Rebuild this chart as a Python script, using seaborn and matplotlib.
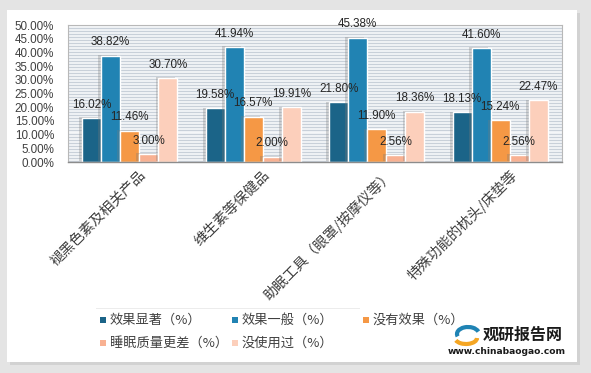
import numpy as np
import pandas as pd
import matplotlib
matplotlib.use('Agg')
import matplotlib.pyplot as plt
import matplotlib.patheffects as pe
from matplotlib.patches import Rectangle, Arc
from matplotlib.ticker import FuncFormatter
import seaborn as sns

# data
categories = ["褪黑色素及相关产品", "维生素等保健品", "助眠工具（眼罩/按摩仪等）", "特殊功能的枕头/床垫等"]
series = ["效果显著（%）", "效果一般（%）", "没有效果（%）", "睡眠质量更差（%）", "没使用过（%）"]
xiaoguo_xianzhu = [16.02, 19.58, 21.80, 18.13]
xiaoguo_yiban = [38.82, 41.94, 45.38, 41.60]
meiyou_xiaoguo = [11.46, 16.57, 11.90, 15.24]
shuimian_gengcha = [3.00, 2.00, 2.56, 2.56]
mei_shiyong = [30.70, 19.91, 18.36, 22.47]
colors = ["#1b6488", "#2183b3", "#f59845", "#f8b192", "#fccfbb"]

values = [xiaoguo_xianzhu, xiaoguo_yiban, meiyou_xiaoguo, shuimian_gengcha, mei_shiyong]
rows = []
for s, vals in zip(series, values):
    for c, v in zip(categories, vals):
        rows.append({"category": c, "series": s, "value": v / 100})
df = pd.DataFrame(rows)

sns.set_theme(style="white")
plt.rcParams['font.family'] = ['Noto Sans CJK SC', 'DejaVu Sans']

W, H = 591, 373
fig = plt.figure(figsize=(W / 100, H / 100), dpi=100)
fig.patch.set_facecolor("#e4e4e4")


def fx(px):
    return px / W


def fy(py):
    return 1 - py / H


# white panel with soft shadow
fig.patches.append(Rectangle((fx(10), fy(365)), fx(570), 352 / H,
                             transform=fig.transFigure, facecolor="#d2d2d2",
                             edgecolor="none", zorder=-2))
fig.patches.append(Rectangle((fx(7), fy(362)), fx(570), 352 / H,
                             transform=fig.transFigure, facecolor="white",
                             edgecolor="none", zorder=-1))

ax = fig.add_axes([fx(68), fy(162), fx(494), 137 / H])
ax.set_facecolor("#f4f6f8")

# striped plot background
for yy in np.arange(0.005, 0.5, 0.011):
    ax.axhline(yy, color="#c8d0d9", lw=0.9, zorder=0)

sns.barplot(data=df, x="category", y="value", hue="series",
            palette=colors, width=0.77, ax=ax, legend=False,
            edgecolor="white", linewidth=1.0, saturation=1, zorder=2)

for bar in ax.patches:
    bar.set_path_effects([pe.SimplePatchShadow(offset=(-2, 0.5),
                                               shadow_rgbFace="#7a7a7a", alpha=0.3),
                          pe.Normal()])

# value labels
for container in ax.containers:
    for bar in container:
        h = bar.get_height()
        ax.annotate(f"{h * 100:.2f}%",
                    (bar.get_x() + bar.get_width() / 2, h),
                    xytext=(0, 9.5), textcoords="offset points",
                    ha="center", va="center", fontsize=8.4,
                    family="Liberation Sans", color="#262626", zorder=5)

ax.set_ylim(0, 0.5)
ax.set_yticks(np.arange(0, 0.51, 0.05))
ax.yaxis.set_major_formatter(FuncFormatter(lambda v, p: f"{v * 100:.2f}%"))
for lab in ax.get_yticklabels():
    lab.set_family("Liberation Sans")
    lab.set_fontsize(8.4)
    lab.set_color("#404040")
ax.tick_params(axis="y", length=0, pad=10)
ax.tick_params(axis="x", length=0, pad=2)

ax.set_xticks(range(len(categories)))
ax.set_xticklabels(categories, rotation=45, ha="right", va="top",
                   rotation_mode="anchor", fontsize=10.3, color="#404040")
for lab in ax.get_xticklabels():
    lab.set_transform(lab.get_transform() + matplotlib.transforms.ScaledTranslation(
        9 / 100, -3 / 100, fig.dpi_scale_trans))
ax.set_xlabel("")
ax.set_ylabel("")

for side in ["top", "right", "left"]:
    ax.spines[side].set_color("#b8b8b8")
    ax.spines[side].set_linewidth(0.8)
ax.spines["bottom"].set_color("#8c8c8c")
ax.spines["bottom"].set_linewidth(1.0)

# legend with equal-width columns, filled row-wise
fig.patches.append(Rectangle((fx(96), fy(309)), fx(264), 1.5 / H,
                             transform=fig.transFigure, facecolor="#ececec",
                             edgecolor="none", zorder=1))
col_x = [100, 232, 363]
row_y = [320, 343]
for i, (name, c) in enumerate(zip(series, colors)):
    x0 = col_x[i % 3]
    y0 = row_y[i // 3]
    fig.patches.append(Rectangle((fx(x0), fy(y0 + 3)), fx(6), 6 / H,
                                 transform=fig.transFigure, facecolor=c,
                                 edgecolor="none", zorder=2))
    fig.text(fx(x0 + 10), fy(y0), name, fontsize=9.5, color="#404040",
             ha="left", va="center")

# watermark
fig.text(fx(523), fy(335), "观研报告网", fontsize=11.5, fontweight="bold",
         ha="center", va="center", color="#1a1a1a")
fig.text(fx(507), fy(351), "www.chinabaogao.com", fontsize=6.6,
         fontweight="bold", ha="center", va="center", color="#1a1a1a",
         family="DejaVu Sans")
fig.patches.append(Arc((fx(468), fy(334)), fx(22), 14 / H, theta1=20, theta2=200,
                       transform=fig.transFigure, color="#1f83b4", lw=3))
fig.patches.append(Arc((fx(466), fy(338)), fx(22), 12 / H, theta1=200, theta2=360,
                       transform=fig.transFigure, color="#f5a623", lw=3))

fig.savefig("out.png", dpi=100)
